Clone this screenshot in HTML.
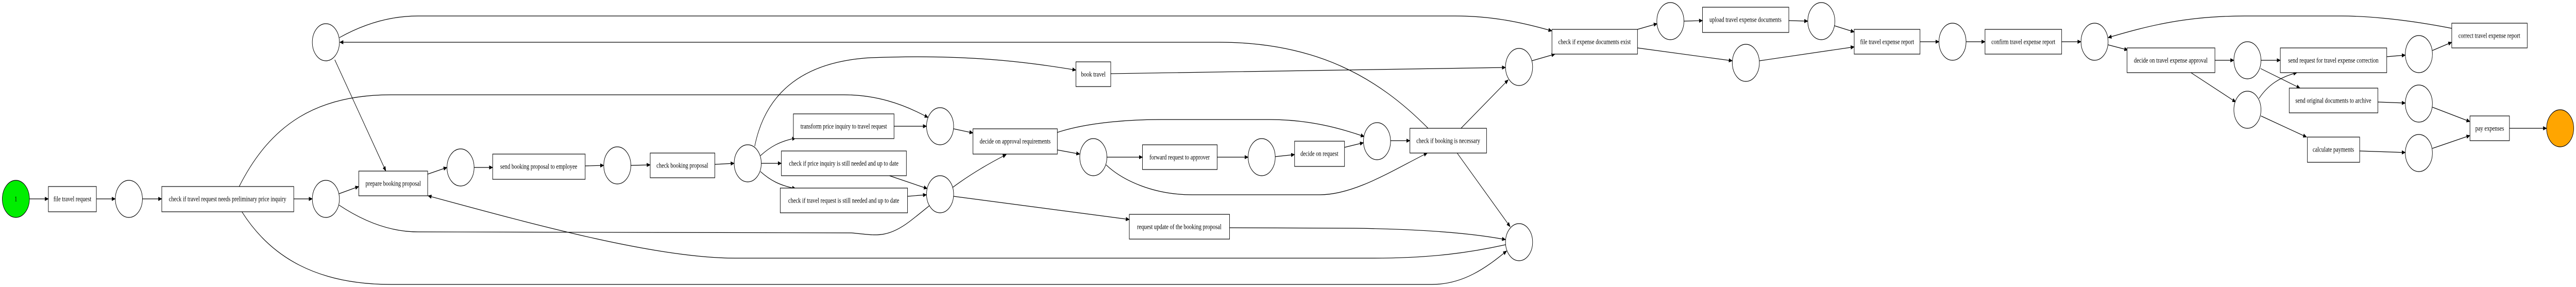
<!DOCTYPE html>
<html><head><meta charset="utf-8">
<style>
html,body{margin:0;padding:0;background:#fff;overflow:hidden;}
svg{display:block;width:100vw;height:100vh;}
text{font-family:"Liberation Serif",serif;font-size:14px;text-anchor:middle;dominant-baseline:central;fill:#000;}
.n{fill:#fff;stroke:#000;stroke-width:1.2;}
.e{fill:none;stroke:#000;stroke-width:1.2;marker-end:url(#a);}
</style></head>
<body>
<svg viewBox="0 0 6656 557" preserveAspectRatio="none" xmlns="http://www.w3.org/2000/svg">
<defs><marker id="a" markerWidth="10" markerHeight="8" refX="9" refY="4" orient="auto" markerUnits="userSpaceOnUse"><path d="M0,0 L10,4 L0,8 z" fill="#000"/></marker></defs>

<path class="e" d="M76,386 L125,386"/>
<path class="e" d="M249,386 L298,386"/>
<path class="e" d="M368,386 L418,386"/>
<path class="e" d="M759,386 L807,386"/>
<path class="e" d="M876,376 L927,362"/>
<path class="e" d="M865,116 L997,332"/>
<path class="e" d="M618,362 C700,240 820,184 1010,184 L2180,184 C2260,184 2330,200 2398,228"/>
<path class="e" d="M625,411 C700,500 820,552 1010,552 L3700,552 C3780,552 3840,520 3893,487"/>
<path class="e" d="M3690,249 C3560,150 3400,82 3150,82 L878,82"/>
<path class="e" d="M877,73 C920,55 990,31 1080,31 L3760,31 C3860,31 3940,45 4010,60"/>
<path class="e" d="M876,398 C930,425 1000,450 1080,450 L2200,452 C2260,456 2290,464 2350,430 C2420,390 2470,350 2600,300"/>
<path class="e" d="M3890,475 C3800,490 3700,501 3550,501 L1900,501 C1700,501 1400,440 1106,380"/>
<path class="e" d="M1105,338 L1155,325"/>
<path class="e" d="M1225,325 L1273,325"/>
<path class="e" d="M1512,322 L1560,321"/>
<path class="e" d="M1630,321 L1680,320"/>
<path class="e" d="M1847,319 L1897,317"/>
<path class="e" d="M1965,302 C1990,285 2015,274 2056,268"/>
<path class="e" d="M1967,317 L2019,317"/>
<path class="e" d="M1965,333 C1990,350 2015,360 2056,366"/>
<path class="e" d="M1950,284 C1975,190 2060,120 2250,112 C2500,105 2650,120 2780,136"/>
<path class="e" d="M2310,245 L2394,245"/>
<path class="e" d="M2298,341 L2396,366"/>
<path class="e" d="M2345,381 L2394,378"/>
<path class="e" d="M2464,250 L2514,258"/>
<path class="e" d="M2464,381 L2918,426"/>
<path class="e" d="M2732,291 L2790,299"/>
<path class="e" d="M2732,257 C2800,240 2900,232 3000,232 L3280,232 C3380,232 3460,248 3525,265"/>
<path class="e" d="M2860,305 L2952,305"/>
<path class="e" d="M2858,320 C2900,350 2980,378 3080,378 L3410,378 C3500,378 3600,330 3688,297"/>
<path class="e" d="M3145,305 L3225,305"/>
<path class="e" d="M3295,304 L3345,300"/>
<path class="e" d="M3474,286 L3523,277"/>
<path class="e" d="M3593,273 L3643,273"/>
<path class="e" d="M2870,143 L3890,131"/>
<path class="e" d="M3775,249 L3897,155"/>
<path class="e" d="M3765,297 L3902,440"/>
<path class="e" d="M3177,442 L3500,443 C3700,445 3820,455 3890,465"/>
<path class="e" d="M3958,118 L4018,105"/>
<path class="e" d="M4231,57 L4282,46"/>
<path class="e" d="M4351,41 L4399,40"/>
<path class="e" d="M4622,40 L4671,41"/>
<path class="e" d="M4740,50 L4791,62"/>
<path class="e" d="M4231,93 L4476,118"/>
<path class="e" d="M4546,118 L4791,91"/>
<path class="e" d="M4961,81 L5010,81"/>
<path class="e" d="M5080,81 L5129,81"/>
<path class="e" d="M5327,81 L5377,81"/>
<path class="e" d="M5447,87 L5498,97"/>
<path class="e" d="M6335,55 C6200,35 6100,31 6050,31 L5800,31 C5650,31 5550,50 5447,73"/>
<path class="e" d="M5723,117 L5772,117"/>
<path class="e" d="M5661,141 L5777,198"/>
<path class="e" d="M5842,117 L5892,117"/>
<path class="e" d="M5841,133 L5943,171"/>
<path class="e" d="M5837,191 C5860,165 5890,150 5935,141"/>
<path class="e" d="M5842,225 L5960,266"/>
<path class="e" d="M6167,110 L6215,107"/>
<path class="e" d="M6285,98 L6335,82"/>
<path class="e" d="M6144,198 L6215,200"/>
<path class="e" d="M6285,208 L6382,236"/>
<path class="e" d="M6097,293 L6215,296"/>
<path class="e" d="M6285,288 L6382,263"/>
<path class="e" d="M6484,249 L6580,249"/>

<ellipse cx="41" cy="386" rx="35" ry="36" fill="#00ee00" stroke="#000" stroke-width="1.2"/>
<text x="41" y="386">1</text>
<ellipse class="n" cx="333" cy="386" rx="35" ry="36"/>
<ellipse class="n" cx="842" cy="386" rx="35" ry="36"/>
<ellipse class="n" cx="842" cy="82" rx="35" ry="36"/>
<ellipse class="n" cx="1190" cy="325" rx="35" ry="36"/>
<ellipse class="n" cx="1595" cy="321" rx="35" ry="36"/>
<ellipse class="n" cx="1932" cy="317" rx="35" ry="36"/>
<ellipse class="n" cx="2429" cy="245" rx="35" ry="36"/>
<ellipse class="n" cx="2429" cy="377" rx="35" ry="36"/>
<ellipse class="n" cx="2825" cy="305" rx="35" ry="36"/>
<ellipse class="n" cx="3260" cy="305" rx="35" ry="36"/>
<ellipse class="n" cx="3558" cy="274" rx="35" ry="36"/>
<ellipse class="n" cx="3925" cy="130" rx="35" ry="36"/>
<ellipse class="n" cx="3925" cy="470" rx="35" ry="36"/>
<ellipse class="n" cx="4316" cy="41" rx="35" ry="36"/>
<ellipse class="n" cx="4706" cy="41" rx="35" ry="36"/>
<ellipse class="n" cx="4511" cy="122" rx="35" ry="36"/>
<ellipse class="n" cx="5045" cy="81" rx="35" ry="36"/>
<ellipse class="n" cx="5412" cy="81" rx="35" ry="36"/>
<ellipse class="n" cx="5807" cy="117" rx="35" ry="36"/>
<ellipse class="n" cx="5807" cy="213" rx="35" ry="36"/>
<ellipse class="n" cx="6250" cy="105" rx="35" ry="36"/>
<ellipse class="n" cx="6250" cy="201" rx="35" ry="36"/>
<ellipse class="n" cx="6250" cy="297" rx="35" ry="36"/>
<ellipse cx="6615" cy="249" rx="35" ry="36" fill="#ffa500" stroke="#000" stroke-width="1.2"/>

<rect class="n" x="125" y="362" width="124" height="49"/><text x="187" y="386">file travel request</text>
<rect class="n" x="418" y="362" width="341" height="49"/><text x="588" y="386">check if travel request needs preliminary price inquiry</text>
<rect class="n" x="927" y="332" width="178" height="48"/><text x="1016" y="356">prepare booking proposal</text>
<rect class="n" x="1273" y="299" width="239" height="49"/><text x="1392" y="323">send booking proposal to employee</text>
<rect class="n" x="1680" y="297" width="167" height="48"/><text x="1763" y="321">check booking proposal</text>
<rect class="n" x="2050" y="221" width="260" height="48"/><text x="2180" y="245">transform price inquiry to travel request</text>
<rect class="n" x="2019" y="293" width="323" height="48"/><text x="2180" y="317">check if price inquiry is still needed and up to date</text>
<rect class="n" x="2016" y="365" width="329" height="48"/><text x="2180" y="389">check if travel request is still needed and up to date</text>
<rect class="n" x="2514" y="250" width="218" height="49"/><text x="2623" y="274">decide on approval requirements</text>
<rect class="n" x="2952" y="281" width="193" height="48"/><text x="3048" y="305">forward request to approver</text>
<rect class="n" x="2918" y="416" width="259" height="48"/><text x="3047" y="440">request update of the booking proposal</text>
<rect class="n" x="2780" y="120" width="90" height="48"/><text x="2825" y="144">book travel</text>
<rect class="n" x="3345" y="274" width="129" height="49"/><text x="3409" y="298">decide on request</text>
<rect class="n" x="3643" y="249" width="198" height="48"/><text x="3742" y="273">check if booking is necessary</text>
<rect class="n" x="4010" y="57" width="221" height="48"/><text x="4120" y="81">check if expense documents exist</text>
<rect class="n" x="4399" y="14" width="223" height="49"/><text x="4510" y="38">upload travel expense documents</text>
<rect class="n" x="4791" y="57" width="170" height="48"/><text x="4876" y="81">file travel expense report</text>
<rect class="n" x="5129" y="57" width="198" height="48"/><text x="5228" y="81">confirm travel expense report</text>
<rect class="n" x="5496" y="93" width="227" height="48"/><text x="5609" y="117">decide on travel expense approval</text>
<rect class="n" x="5892" y="93" width="275" height="48"/><text x="6029" y="117">send request for travel expense correction</text>
<rect class="n" x="6335" y="45" width="195" height="48"/><text x="6432" y="69">correct travel expense report</text>
<rect class="n" x="5915" y="171" width="229" height="48"/><text x="6029" y="195">send original documents to archive</text>
<rect class="n" x="5962" y="266" width="135" height="49"/><text x="6029" y="290">calculate payments</text>
<rect class="n" x="6382" y="225" width="102" height="48"/><text x="6433" y="249">pay expenses</text>
</svg>
</body></html>
